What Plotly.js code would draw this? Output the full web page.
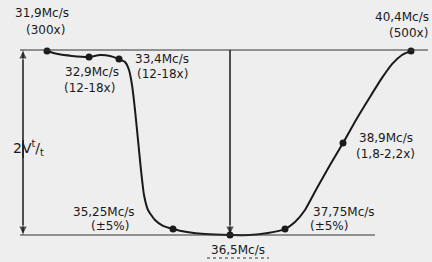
<!DOCTYPE html>
<html><head><meta charset="utf-8">
<script src="https://cdn.plot.ly/plotly-3.0.1.min.js"></script>
<style>html,body{margin:0;padding:0;background:#eeeeee}#c{width:432px;height:262px}</style>
</head><body><div id="c"></div><script>
// Marked frequencies (schematic position along the band, relative response 0..1 of 2V)
const freqLabels = ['31,9Mc/s','32,9Mc/s','33,4Mc/s','35,25Mc/s','36,5Mc/s','37,75Mc/s','38,9Mc/s','40,4Mc/s'];
const notes      = ['(300x)','(12-18x)','(12-18x)','(±5%)','','(±5%)','(1,8-2,2x)','(500x)'];
const pointPos   = [47, 89, 119, 173, 230, 285, 343, 411];
const pointLevel = [0.995, 0.962, 0.951, 0.032, 0, 0.032, 0.497, 0.995];
// Traced response curve
const curvePos   = [47,58,72,89,100,110,119,125,129,132,135,138,141,144,148,155,163,173,187,205,230,250,268,285,295,305,317,330,343,356,370,382,392,402,411];
const curveLevel = [0.995,0.978,0.968,0.962,0.973,0.968,0.951,0.935,0.892,0.811,0.676,0.514,0.351,0.216,0.135,0.081,0.049,0.032,0.016,0.005,0,0,0.011,0.032,0.070,0.135,0.254,0.378,0.497,0.622,0.746,0.849,0.924,0.973,0.995];

const BG = '#eeeeee', INK = '#1a1a1a';
const v = py => (235 - py) / 185;           // pixel row -> level
const FONT = {family: 'DejaVu Sans', size: 12, color: INK};

const traces = [
  // left double arrow (2V span)
  {x: [23, 23], y: [1, v(158)], mode: 'lines+markers', line: {color: INK, width: 1.5},
   marker: {symbol: ['arrow-up', 'circle'], size: [9, 0], color: INK}, hoverinfo: 'skip'},
  {x: [23, 23], y: [v(140), 0], mode: 'lines+markers', line: {color: INK, width: 1.5},
   marker: {symbol: ['circle', 'arrow-down'], size: [0, 9], color: INK}, hoverinfo: 'skip'},
  // centre arrow
  {x: [230, 230], y: [1, 0], mode: 'lines+markers', line: {color: INK, width: 1.5},
   marker: {symbol: ['circle', 'arrow-down'], size: [0, 9], color: INK}, hoverinfo: 'skip'},
  {x: curvePos, y: curveLevel, mode: 'lines', line: {color: INK, width: 2, shape: 'spline', smoothing: 0.5}, hoverinfo: 'skip'},
  {x: pointPos, y: pointLevel, mode: 'markers', marker: {color: INK, size: 7}, hoverinfo: 'skip'}
];

// label centres
const labelAt = [[42,13,45,30],[92,72,89,88],[162,59,162,74],[104,212,110,226],[238,250,0,0],[344,212,329,226],[386,138,385,154],[402,17,408,33]];
const ann = [];
freqLabels.forEach((t, i) => {
  const p = labelAt[i];
  ann.push({x: p[0], y: v(p[1]), text: t, showarrow: false, font: FONT, xref: 'x', yref: 'y'});
  if (notes[i]) ann.push({x: p[2], y: v(p[3]), text: notes[i], showarrow: false, font: FONT, xref: 'x', yref: 'y'});
});
ann.push({x: 28, y: v(148), text: '2V<sup>t</sup>/<sub>t</sub>', showarrow: false,
  font: {family: 'DejaVu Sans', size: 14, color: INK}, xref: 'x', yref: 'y'});

const shapes = [
  {type: 'line', xref: 'x', yref: 'y', x0: 20, x1: 428, y0: 1, y1: 1, line: {color: '#333', width: 1}},
  {type: 'line', xref: 'x', yref: 'y', x0: 20, x1: 375, y0: 0, y1: 0, line: {color: '#333', width: 1}},
  {type: 'line', xref: 'x', yref: 'y', x0: 207, x1: 269, y0: v(258), y1: v(258), line: {color: '#333', width: 1.2, dash: 'dot'}}
];

const layout = {
  width: 432, height: 262, margin: {l: 0, r: 0, t: 0, b: 0},
  paper_bgcolor: BG, plot_bgcolor: BG, showlegend: false,
  xaxis: {range: [0, 432], visible: false, fixedrange: true},
  yaxis: {range: [v(262), v(0)], visible: false, fixedrange: true},
  annotations: ann, shapes: shapes
};
Plotly.newPlot('c', traces, layout, {staticPlot: true, displayModeBar: false});
</script></body></html>
